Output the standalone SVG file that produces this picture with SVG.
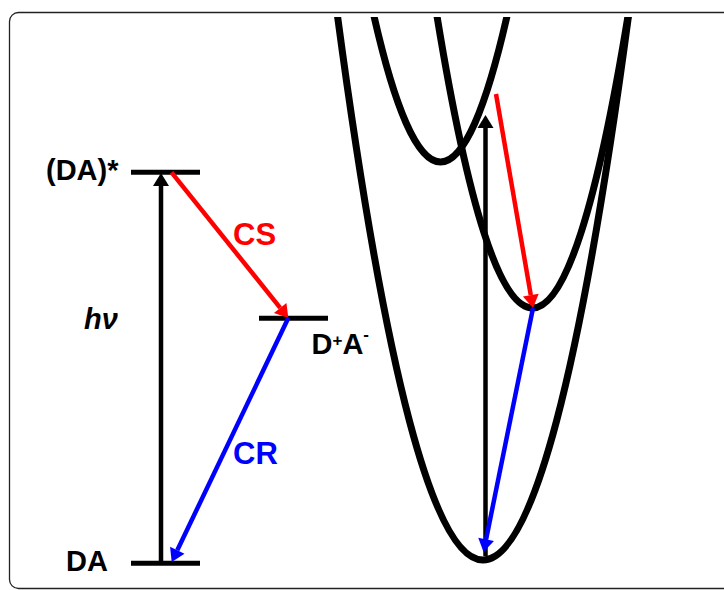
<svg xmlns="http://www.w3.org/2000/svg" width="724" height="590" viewBox="0 0 724 590">
<style>
.lbl{font-family:"Liberation Sans",Arial,sans-serif;font-weight:bold;font-size:29px;fill:#000}
.lvl{stroke:#000;stroke-width:5;fill:none}
.curve{stroke:#000;stroke-width:7;fill:none}
.ab{stroke:#000;stroke-width:4.5;fill:none}
.ar{stroke:#ff0000;stroke-width:4.5;fill:none}
.au{stroke:#0000ff;stroke-width:4.5;fill:none}
</style>
<defs>
<marker id="hk" markerUnits="userSpaceOnUse" markerWidth="14" markerHeight="16" refX="0" refY="8" orient="auto" overflow="visible"><path d="M0,0 L13,8 L0,16 Z" fill="#000"/></marker>
<marker id="hr" markerUnits="userSpaceOnUse" markerWidth="14" markerHeight="16" refX="0" refY="8" orient="auto" overflow="visible"><path d="M0,0 L13,8 L0,16 Z" fill="#ff0000"/></marker>
<marker id="hu" markerUnits="userSpaceOnUse" markerWidth="14" markerHeight="16" refX="0" refY="8" orient="auto" overflow="visible"><path d="M0,0 L13,8 L0,16 Z" fill="#0000ff"/></marker>
<clipPath id="clipTop"><rect x="0" y="17" width="724" height="573"/></clipPath>
</defs>
<rect x="0" y="0" width="724" height="590" fill="#fff"/>
<rect id="frame" x="9.5" y="12.5" width="730" height="576" rx="9" fill="none" stroke="#222" stroke-width="1.3"/>

<g id="level-DAstar">
<line class="lvl" x1="131" y1="172.3" x2="200" y2="172.3"/>
<text class="lbl" x="46" y="180">(DA)*</text>
</g>
<g id="level-DpAm">
<line class="lvl" x1="259" y1="318.3" x2="328" y2="318.3"/>
<text class="lbl" x="311.5" y="353.5">D<tspan font-size="17" dy="-8">+</tspan><tspan dy="8">A</tspan><tspan font-size="17" dy="-14">-</tspan></text>
</g>
<g id="level-DA">
<line class="lvl" x1="131" y1="563.3" x2="200" y2="563.3"/>
<text class="lbl" x="66" y="570.5">DA</text>
</g>
<g id="label-hv"><text class="lbl" font-style="italic" x="84" y="329">hν</text></g>
<g id="label-CS"><text class="lbl" font-size="31" fill="#ff0000" style="fill:#ff0000;font-size:31px" x="233" y="245">CS</text></g>
<g id="label-CR"><text class="lbl" style="fill:#0000ff;font-size:31px" x="233" y="463.5">CR</text></g>

<g id="surfaces" clip-path="url(#clipTop)">
<path id="surface-DA" class="curve" d="M336.05,5 Q483,1115 629.95,5"/>
<path id="surface-DAstar" class="curve" d="M371.5,5 Q440.5,319 509.5,5"/>
<path id="surface-DpAm" class="curve" d="M435.2,5 Q532.5,611 629.8,5"/>
</g>

<g id="connectors">
<line class="ab" x1="161" y1="563" x2="161" y2="186" marker-end="url(#hk)"/>
<line class="ar" x1="171.5" y1="172.3" x2="280.2" y2="307.9" marker-end="url(#hr)"/>
<line class="au" x1="288.3" y1="318" x2="177.3" y2="550.3" marker-end="url(#hu)"/>
<line class="ab" stroke-width="4" x1="485.5" y1="556" x2="485.5" y2="128" marker-end="url(#hk)"/>
<line class="ar" stroke-width="4" x1="496" y1="94" x2="530.8" y2="295.2" marker-end="url(#hr)"/>
<line class="au" stroke-width="4" x1="533" y1="308" x2="486.1" y2="539.3" marker-end="url(#hu)"/>
</g>
</svg>
